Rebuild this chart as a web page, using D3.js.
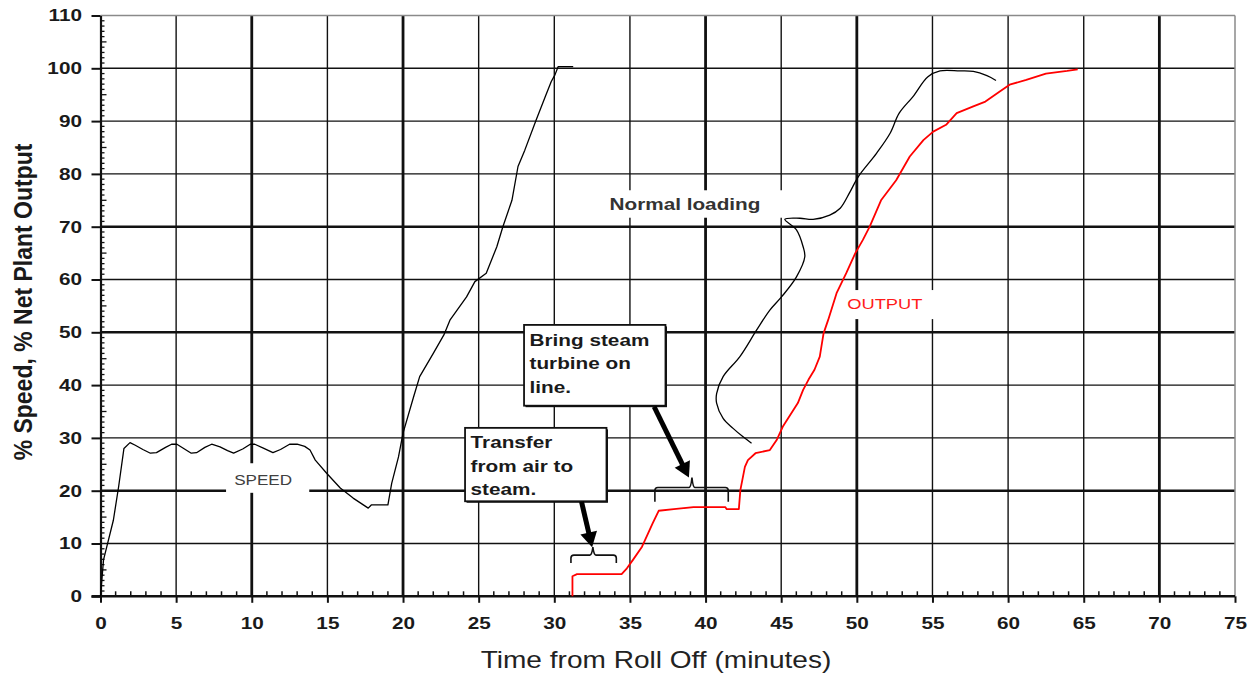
<!DOCTYPE html>
<html><head><meta charset="utf-8">
<script src="https://cdn.jsdelivr.net/npm/d3@7"></script>
<style>
html,body{margin:0;padding:0;background:#fff;}
svg{display:block;font-family:"Liberation Sans",Arial,Helvetica,sans-serif;}
</style></head>
<body><svg id="c" width="1255" height="674"></svg>
<script>
// ---------- data ----------
const xTicks = [0,5,10,15,20,25,30,35,40,45,50,55,60,65,70,75];
const yTicks = [0,10,20,30,40,50,60,70,80,90,100,110];

const speedT = [0,0.2,0.85,1.2,1.55,1.95,2.3,2.8,3.3,3.7,4.3,4.7,5.05,5.5,6.0,6.35,6.9,7.35,7.9,8.4,8.8,9.4,9.9,10.2,10.8,11.4,11.9,12.5,13.0,13.5,13.85,14.2,14.95,15.85,16.7,17.7,17.9,19.0,19.25,19.7,20.0,20.7,21.1,22.0,22.7,23.1,24.2,24.75,25.5,26.2,26.6,27.2,27.6,28.05,28.8,29.4,29.8,30.05,30.25,31.25];
const speedV = [0,6.9,14.4,20.8,28.0,29.1,28.6,27.8,27.1,27.2,28.2,28.8,28.8,28.0,27.1,27.2,28.2,28.8,28.3,27.6,27.1,27.9,28.8,28.8,28.0,27.2,27.8,28.8,28.8,28.4,27.7,25.8,23.3,20.5,18.6,16.7,17.3,17.3,21.4,26.4,30.9,37.8,41.6,46.0,49.5,52.3,56.7,59.6,61.2,66.2,70.0,75.0,81.4,84.5,90.2,94.6,97.5,98.8,100.3,100.3];

const loadT = [43.04,42.48,41.82,41.16,40.73,40.73,41.16,42.27,43.37,44.25,45.02,46.01,46.56,46.45,46.01,45.24,46.24,47.11,48.21,48.9,49.55,50.1,51.3,52.2,52.8,53.7,54.7,55.5,56.8,57.7,58.6,59.2];
const loadV = [29.0,30.2,31.8,33.7,36.6,38.4,41.6,45.4,50.4,54.2,56.7,60.5,64.3,66.2,69.4,71.4,71.6,71.4,72.2,73.5,76.6,79.5,83.9,87.7,91.5,94.6,98.4,99.5,99.5,99.4,98.6,97.7];

const outT = [31.2,31.2,31.5,34.45,34.8,35.2,35.8,36.2,36.5,36.9,37.9,39.2,41.3,41.4,42.2,42.3,42.6,42.8,43.3,44.25,44.7,45.1,46.1,46.45,46.8,47.2,47.55,47.8,48.1,48.66,49.3,49.9,50.4,50.85,51.6,52.6,53.5,54.4,55.05,55.9,56.6,57.7,58.5,59.45,60.1,61.2,62.5,63.9,64.6];
const outV = [0,3.8,4.2,4.2,5.3,6.9,9.4,11.9,13.8,16.2,16.5,16.9,16.9,16.5,16.5,20.1,24.5,25.8,27.1,27.7,29.6,32.1,36.6,39.1,41.0,42.9,45.4,49.8,52.3,57.4,61.2,65.0,67.5,70.0,75.0,78.8,83.3,86.4,88.0,89.3,91.5,92.8,93.7,95.6,96.9,97.8,99.0,99.5,99.8];

const xTitle = "Time from Roll Off (minutes)";
const yTitle = "% Speed, % Net Plant Output";
const boxTransfer = ["Transfer", "from air to", "steam."];
const boxSteam = ["Bring steam", "turbine on", "line."];

// ---------- chart ----------
const svg = d3.select("#c");
const x = d3.scaleLinear([0,75],[100.5,1235]);
const y = d3.scaleLinear([0,110],[596.3,15.5]);
const SX = 1.22; // horizontal stretch of the scanned lettering
const thickX = new Set([10,20,40,50,70]);
const thickY = new Set([20,50,70]);

const grid = svg.append("g");
d3.range(5,75,5).forEach(v=>{
  grid.append("line").attr("x1",x(v)).attr("x2",x(v)).attr("y1",y(110)).attr("y2",y(0))
    .attr("stroke","#111").attr("stroke-width",thickX.has(v)?2.8:1.4);
});
d3.range(10,110,10).forEach(v=>{
  grid.append("line").attr("x1",x(0)).attr("x2",x(75)).attr("y1",y(v)).attr("y2",y(v))
    .attr("stroke","#111").attr("stroke-width",thickY.has(v)?2.6:1.4);
});
// top and right frame
grid.append("line").attr("x1",x(0)).attr("x2",x(75)).attr("y1",y(110)).attr("y2",y(110)).attr("stroke","#8a8a8a").attr("stroke-width",1.5);
grid.append("line").attr("x1",x(75)).attr("x2",x(75)).attr("y1",y(110)).attr("y2",y(0)).attr("stroke","#8a8a8a").attr("stroke-width",1.5);

// minor ticks
const minor = svg.append("g").attr("stroke","#111");
d3.range(1,110).filter(v=>v%10!==0).forEach(v=>{
  minor.append("line").attr("x1",x(0)).attr("x2",x(0)+(v%5===0?6:4)).attr("y1",y(v)).attr("y2",y(v)).attr("stroke-width",1.3);
});
d3.range(1,75).filter(v=>v%5!==0).forEach(v=>{
  minor.append("line").attr("x1",x(v)).attr("x2",x(v)).attr("y1",y(0)).attr("y2",y(0)-5).attr("stroke-width",1.5);
});

// axes
const yAx = svg.append("g").attr("transform",`translate(${x(0)},0)`)
  .call(d3.axisLeft(y).tickValues(yTicks).tickSize(9).tickSizeOuter(0).tickPadding(6.2));
yAx.select(".domain").attr("stroke","#111").attr("stroke-width",2.2);
yAx.selectAll(".tick line").attr("stroke","#111").attr("stroke-width",2);
yAx.selectAll(".tick text").attr("font-size",17).attr("font-weight","bold").attr("fill","#1a1a1a")
  .attr("font-family","Liberation Sans, Arial, sans-serif").attr("transform",`scale(${SX},1)`);

const xAx = svg.append("g").attr("transform",`translate(0,${y(0)})`)
  .call(d3.axisBottom(x).tickValues(xTicks).tickSize(6.5).tickSizeOuter(0).tickPadding(14.5));
xAx.select(".domain").attr("stroke","#111").attr("stroke-width",2.4).attr("d",`M${x(0)-9},0H${x(75)}`);
xAx.selectAll(".tick line").attr("stroke","#111").attr("stroke-width",2);
xAx.selectAll(".tick text").attr("font-size",17).attr("font-weight","bold").attr("fill","#1a1a1a")
  .attr("font-family","Liberation Sans, Arial, sans-serif").attr("transform",`scale(${SX},1)`);

// white label backgrounds
function blank(t0,t1,v0,v1){
  svg.append("rect").attr("x",x(t0)).attr("y",y(v1)).attr("width",x(t1)-x(t0)).attr("height",y(v0)-y(v1)).attr("fill","#fff");
}
blank(8.3,13.8,19.6,25.2);
blank(32.2,45.1,71.7,76.9);
blank(49.0,55.15,52.5,58.0);

// curves
const line = d3.line().x(d=>x(d[0])).y(d=>y(d[1]));
svg.append("path").datum(speedT.map((t,i)=>[t,speedV[i]])).attr("d",line)
  .attr("fill","none").attr("stroke","#000").attr("stroke-width",1.3).attr("stroke-linejoin","round");
svg.append("path").datum(loadT.map((t,i)=>[t,loadV[i]])).attr("d",line.curve(d3.curveCatmullRom))
  .attr("fill","none").attr("stroke","#000").attr("stroke-width",1.3);
svg.append("path").datum(outT.map((t,i)=>[t,outV[i]])).attr("d",d3.line().x(d=>x(d[0])).y(d=>y(d[1])))
  .attr("fill","none").attr("stroke","#ff0000").attr("stroke-width",1.8).attr("stroke-linejoin","round");

// text labels
function label(txt,t,v,opt){
  const g = svg.append("g").attr("transform",`translate(${x(t)},${y(v)}) scale(${SX},1)`);
  return g.append("text").text(txt).attr("text-anchor",opt.anchor||"start")
    .attr("font-size",opt.size).attr("font-weight",opt.weight||"normal").attr("fill",opt.fill||"#111")
    .attr("letter-spacing",opt.ls||0);
}
label("SPEED",10.75,21.0,{size:14,anchor:"middle",fill:"#404040"});
label("Normal loading",33.65,73.2,{size:17,weight:"bold",fill:"#333"});
label("OUTPUT",51.85,54.4,{size:15,anchor:"middle",fill:"#ff1a1a"});

// axis titles
svg.append("g").attr("transform",`translate(656,668) scale(${SX},1)`).append("text")
  .text(xTitle).attr("text-anchor","middle").attr("font-size",23).attr("fill","#222");
svg.append("g").attr("transform",`translate(31.5,302) rotate(-90) scale(1,1.12)`).append("text")
  .text(yTitle).attr("text-anchor","middle").attr("font-size",23).attr("font-weight","bold").attr("fill","#1a1a1a");

// annotation boxes
function box(lines,t0,t1,vTop,vBot,firstBase){
  const x0=x(t0),x1=x(t1),y0=y(vTop),y1=y(vBot);
  svg.append("rect").attr("x",x0+1.5).attr("y",y0+1.5).attr("width",x1-x0).attr("height",y1-y0).attr("fill","#111");
  svg.append("rect").attr("x",x0).attr("y",y0).attr("width",x1-x0).attr("height",y1-y0).attr("fill","#fff").attr("stroke","#111").attr("stroke-width",1.8);
  lines.forEach((s,i)=>{
    svg.append("g").attr("transform",`translate(${x0+5.5},${y0+firstBase+i*23.4}) scale(${SX},1)`)
      .append("text").text(s).attr("font-size",17).attr("font-weight","bold").attr("fill","#1a1a1a");
  });
}
box(boxSteam,28.0,37.35,51.4,36.1,21);
box(boxTransfer,24.1,33.45,31.9,18.0,20.5);

// arrows
function arrow(t0,v0,t1,v1){
  const ax=x(t0),ay=y(v0),bx=x(t1),by=y(v1);
  const L=Math.hypot(bx-ax,by-ay),ux=(bx-ax)/L,uy=(by-ay)/L,nx=-uy,ny=ux;
  const hl=15,hw=8.5;
  const cx=bx-ux*hl,cy=by-uy*hl;
  svg.append("line").attr("x1",ax).attr("y1",ay).attr("x2",cx+ux*2).attr("y2",cy+uy*2).attr("stroke","#000").attr("stroke-width",5);
  svg.append("path").attr("d",`M${bx},${by}L${cx+nx*hw},${cy+ny*hw}L${cx-nx*hw},${cy-ny*hw}Z`).attr("fill","#000");
}
arrow(31.8,17.9,32.5,9.3);
arrow(36.6,35.9,38.9,22.5);

// braces
function brace(t0,t1,tm,v,vEnd,vPeak){
  const x0=x(t0),x1=x(t1),xm=x(tm),yy=y(v),ye=y(vEnd),yp=y(vPeak);
  const r=3;
  const d=`M${x0},${ye}V${yy+r}Q${x0},${yy} ${x0+r},${yy}H${xm-3}Q${xm-1},${yy} ${xm},${yp}Q${xm+1},${yy} ${xm+3},${yy}H${x1-r}Q${x1},${yy} ${x1},${yy+r}V${ye}`;
  svg.append("path").attr("d",d).attr("fill","none").attr("stroke","#111").attr("stroke-width",1.6);
}
brace(31.1,34.1,32.55,7.8,6.3,9.3);
brace(36.65,41.5,39.1,20.6,17.9,22.5);
</script>
</body></html>
